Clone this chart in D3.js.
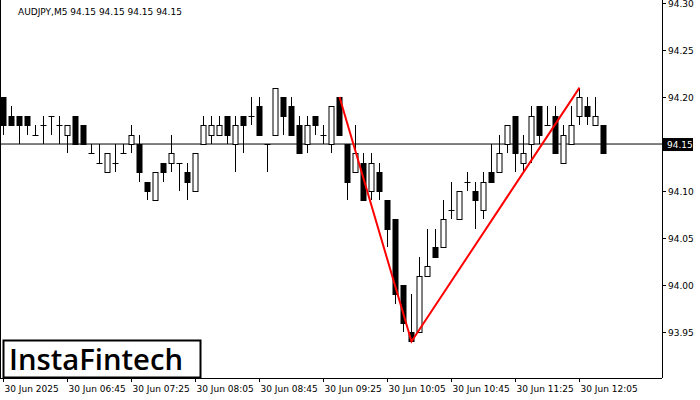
<!DOCTYPE html><html><head><meta charset="utf-8">
<script src="https://cdn.jsdelivr.net/npm/d3@7"></script>
<style>body{margin:0;background:#fff}svg{font-family:"DejaVu Sans",sans-serif}</style></head><body>
<svg id="c" width="700" height="400"></svg>
<script>
const open_ =[94.20,94.18,94.18,94.18,94.16,94.17,94.18,94.17,94.16,94.18,94.17,94.14,94.13,94.12,94.13,94.14,94.15,94.15,94.11,94.09,94.13,94.13,94.13,94.12,94.10,94.15,94.16,94.16,94.18,94.15,94.18,94.18,94.19,94.15,94.16,94.20,94.19,94.17,94.15,94.18,94.16,94.15,94.20,94.15,94.12,94.13,94.10,94.12,94.09,94.07,94.00,93.95,93.95,94.01,94.04,94.04,94.08,94.07,94.11,94.10,94.08,94.12,94.12,94.15,94.18,94.13,94.15,94.19,94.17,94.18,94.13,94.15,94.18,94.19,94.17,94.17];
const high_ =[94.20,94.19,94.18,94.18,94.17,94.18,94.18,94.18,94.17,94.18,94.17,94.15,94.15,94.14,94.15,94.15,94.17,94.16,94.11,94.12,94.13,94.16,94.13,94.13,94.14,94.18,94.18,94.18,94.18,94.18,94.18,94.20,94.20,94.15,94.21,94.20,94.20,94.18,94.18,94.18,94.17,94.19,94.20,94.15,94.17,94.14,94.14,94.13,94.09,94.07,94.00,93.99,94.03,94.06,94.06,94.09,94.11,94.10,94.12,94.11,94.12,94.15,94.16,94.17,94.18,94.16,94.19,94.19,94.19,94.19,94.17,94.19,94.21,94.20,94.20,94.17];
const low_  =[94.16,94.17,94.15,94.16,94.16,94.15,94.16,94.15,94.14,94.15,94.15,94.14,94.13,94.12,94.12,94.14,94.14,94.11,94.09,94.09,94.11,94.12,94.10,94.09,94.10,94.15,94.15,94.16,94.15,94.12,94.14,94.17,94.16,94.12,94.16,94.16,94.16,94.14,94.14,94.16,94.15,94.14,94.16,94.09,94.12,94.09,94.09,94.09,94.04,93.98,93.95,93.94,93.95,94.01,94.03,94.04,94.07,94.07,94.10,94.06,94.07,94.11,94.12,94.14,94.12,94.12,94.13,94.15,94.17,94.14,94.13,94.15,94.17,94.17,94.17,94.14];
const close_=[94.17,94.17,94.17,94.17,94.16,94.17,94.18,94.17,94.17,94.15,94.15,94.14,94.13,94.14,94.13,94.14,94.16,94.12,94.10,94.12,94.12,94.14,94.13,94.11,94.14,94.17,94.17,94.17,94.16,94.17,94.17,94.18,94.16,94.15,94.21,94.18,94.16,94.14,94.17,94.17,94.16,94.19,94.16,94.11,94.14,94.09,94.13,94.10,94.06,93.99,93.96,93.94,94.01,94.02,94.03,94.07,94.08,94.10,94.11,94.09,94.11,94.11,94.14,94.17,94.14,94.14,94.18,94.16,94.17,94.14,94.16,94.17,94.20,94.18,94.18,94.14];
const priceTicks=[94.30,94.25,94.20,94.10,94.05,94.00,93.95];
const timeIdx=[0,8,16,24,32,40,48,56,64,72];
const timeLabels=["30 Jun 2025","30 Jun 06:45","30 Jun 07:25","30 Jun 08:05","30 Jun 08:45","30 Jun 09:25","30 Jun 10:05","30 Jun 10:45","30 Jun 11:25","30 Jun 12:05"];
const patternIdx=[42,51,72];
const patternPrice=[94.20,93.94,94.21];
const lastPrice=94.15;

const svg=d3.select("#c");
const W=662,H=378;
const x=d3.scaleLinear().domain([0,75]).range([3,603]);
const y=d3.scaleLinear().domain([93.9011,94.3032]).range([H,0]);
const data=open_.map((o,i)=>({i,o,h:high_[i],l:low_[i],c:close_[i]}));

svg.append("line").attr("x1",0).attr("x2",W).attr("y1",y(lastPrice)).attr("y2",y(lastPrice)).attr("stroke","#000");
const g=svg.append("g");
data.forEach(d=>{
  const cx=Math.round(x(d.i))+0.5;
  g.append("line").attr("x1",cx).attr("x2",cx).attr("y1",Math.round(y(d.h))).attr("y2",Math.round(y(d.l))).attr("stroke","#000");
  const t=Math.round(y(Math.max(d.o,d.c))),b=Math.round(y(Math.min(d.o,d.c)));
  if(b-t<1){g.append("line").attr("x1",cx-3).attr("x2",cx+3).attr("y1",t+0.5).attr("y2",t+0.5).attr("stroke","#000");}
  else g.append("rect").attr("x",cx-2.5).attr("y",t+0.5).attr("width",5).attr("height",b-t).attr("fill",d.c>=d.o?"#fff":"#000").attr("stroke","#000");
});
const pts=patternIdx.map((k,j)=>[x(k)+0.5,y(patternPrice[j])]);
svg.append("path").attr("d",d3.line()(pts)).attr("fill","none").attr("stroke","#f00").attr("stroke-width",2);

svg.append("line").attr("x1",W+0.5).attr("x2",W+0.5).attr("y1",0).attr("y2",H).attr("stroke","#000");
svg.append("line").attr("x1",0).attr("x2",W).attr("y1",H+0.5).attr("y2",H+0.5).attr("stroke","#000");
svg.append("line").attr("x1",0.5).attr("x2",0.5).attr("y1",0).attr("y2",H).attr("stroke","#000");
priceTicks.forEach(p=>{
  svg.append("line").attr("x1",W).attr("x2",W+4).attr("y1",Math.round(y(p))+0.5).attr("y2",Math.round(y(p))+0.5).attr("stroke","#000");
  svg.append("text").attr("x",668).attr("y",y(p)+3.5).attr("font-size",9).text(p.toFixed(2));
});
svg.append("rect").attr("x",663).attr("y",y(lastPrice)-6).attr("width",30).attr("height",13).attr("fill","#000");
svg.append("text").attr("x",667).attr("y",y(lastPrice)+3.5).attr("font-size",9).attr("fill","#fff").text(lastPrice.toFixed(2));
timeIdx.forEach((k,j)=>{
  const tx=Math.round(x(k))+0.5;
  svg.append("line").attr("x1",tx).attr("x2",tx).attr("y1",H).attr("y2",H+4).attr("stroke","#000");
  svg.append("text").attr("x",tx+1).attr("y",392).attr("font-size",9).text(timeLabels[j]);
});
svg.append("text").attr("x",18).attr("y",15).attr("font-size",9).text("AUDJPY,M5  94.15 94.15 94.15 94.15");
svg.append("rect").attr("x",3.5).attr("y",340.5).attr("width",197).attr("height",37).attr("fill","#fff").attr("stroke","#000").attr("stroke-width",2);
svg.append("text").attr("x",9).attr("y",370).attr("font-size",29).attr("font-weight",600).attr("font-family","Open Sans, sans-serif").attr("textLength",174).attr("lengthAdjust","spacingAndGlyphs").text("InstaFintech");
</script></body></html>
